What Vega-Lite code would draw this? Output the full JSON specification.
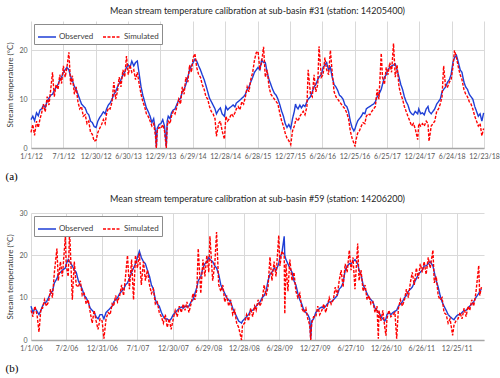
{
"$schema": "https://vega.github.io/schema/vega-lite/v6.json",
"padding": {"left": 5, "top": 7, "right": 2, "bottom": 2},
"spacing": 14,
"resolve": {"scale": {"color": "independent", "strokeDash": "independent"}, "legend": {"color": "independent", "strokeDash": "independent"}},
"config": {
 "font": "Lato",
 "view": {"stroke": null},
 "title": {"fontSize": 9, "fontWeight": "normal", "color": "#262626", "offset": 5},
 "axis": {"labelFontSize": 7, "labelColor": "#595959", "gridColor": "#d9d9d9", "gridWidth": 1, "ticks": false, "domain": false, "labelPadding": 4},
 "axisX": {"domain": true, "domainColor": "#a6a6a6", "domainWidth": 1.5, "titleFont": "Liberation Serif", "titleFontSize": 11, "titleFontWeight": "normal", "titleColor": "#000000", "titleAnchor": "start", "titleAlign": "left", "titleX": -26, "titlePadding": 11, "labelFlush": false, "labelOverlap": false},
 "axisY": {"titleFontSize": 8, "titleFontWeight": "normal", "titleColor": "#404040", "titlePadding": 4},
 "legend": {"orient": "top-left", "offset": 3, "direction": "horizontal", "symbolType": "stroke", "symbolSize": 324, "symbolStrokeWidth": 1.6, "labelFontSize": 8, "labelColor": "#404040", "strokeColor": "#8c8c8c", "fillColor": "white", "padding": 3, "columnPadding": 5, "labelOffset": 2}
},
"datasets": {
"a": [
{"d":"2012-01-01","o":5.8,"s":3.2},{"d":"2012-01-11","o":6.5,"s":4.8},{"d":"2012-01-21","o":5.6,"s":2.6},
{"d":"2012-02-01","o":7.2,"s":5.5},{"d":"2012-02-11","o":6.6,"s":4.2},{"d":"2012-02-21","o":7.8,"s":6.0},
{"d":"2012-03-01","o":8.0,"s":7.2},{"d":"2012-03-11","o":8.8,"s":9.0},{"d":"2012-03-21","o":8.3,"s":7.4},
{"d":"2012-04-01","o":9.6,"s":10.5},{"d":"2012-04-11","o":10.2,"s":8.8},{"d":"2012-04-21","o":10.8,"s":12.0},
{"d":"2012-05-01","o":11.0,"s":15.5},{"d":"2012-05-11","o":11.8,"s":10.5},{"d":"2012-05-21","o":12.4,"s":13.0},
{"d":"2012-06-01","o":13.0,"s":12.0},{"d":"2012-06-11","o":14.0,"s":15.0},{"d":"2012-06-21","o":14.5,"s":13.2},
{"d":"2012-07-01","o":15.5,"s":16.8},{"d":"2012-07-11","o":16.0,"s":14.5},{"d":"2012-07-21","o":16.5,"s":16.5},
{"d":"2012-08-01","o":16.0,"s":19.6},{"d":"2012-08-11","o":14.6,"s":13.0},{"d":"2012-08-21","o":13.8,"s":14.8},
{"d":"2012-09-01","o":12.6,"s":11.0},{"d":"2012-09-11","o":12.0,"s":12.5},{"d":"2012-09-21","o":11.0,"s":9.5},
{"d":"2012-10-01","o":10.0,"s":8.0},{"d":"2012-10-11","o":9.0,"s":8.5},{"d":"2012-10-21","o":8.6,"s":6.5},
{"d":"2012-11-01","o":8.2,"s":6.8},{"d":"2012-11-11","o":7.2,"s":5.0},{"d":"2012-11-21","o":6.8,"s":5.5},
{"d":"2012-12-01","o":5.5,"s":3.2},{"d":"2012-12-11","o":5.2,"s":2.8},{"d":"2012-12-21","o":4.4,"s":1.4},
{"d":"2013-01-01","o":4.2,"s":1.6},{"d":"2013-01-11","o":5.5,"s":3.2},{"d":"2013-01-21","o":6.2,"s":4.0},
{"d":"2013-02-01","o":6.8,"s":4.8},{"d":"2013-02-11","o":7.4,"s":5.8},{"d":"2013-02-21","o":7.0,"s":5.0},
{"d":"2013-03-01","o":8.0,"s":7.0},{"d":"2013-03-11","o":8.8,"s":8.2},{"d":"2013-03-21","o":9.2,"s":8.0},
{"d":"2013-04-01","o":10.0,"s":9.5},{"d":"2013-04-11","o":11.0,"s":13.5},{"d":"2013-04-21","o":11.5,"s":10.0},
{"d":"2013-05-01","o":12.5,"s":11.5},{"d":"2013-05-11","o":13.2,"s":14.5},{"d":"2013-05-21","o":14.0,"s":12.5},
{"d":"2013-06-01","o":15.0,"s":16.0},{"d":"2013-06-11","o":15.5,"s":14.5},{"d":"2013-06-21","o":16.5,"s":18.8},
{"d":"2013-07-01","o":17.0,"s":15.0},{"d":"2013-07-11","o":16.5,"s":17.0},{"d":"2013-07-21","o":17.8,"s":15.5},
{"d":"2013-08-01","o":16.8,"s":16.0},{"d":"2013-08-11","o":17.5,"s":14.0},{"d":"2013-08-21","o":17.8,"s":15.5},
{"d":"2013-09-01","o":15.0,"s":13.0},{"d":"2013-09-11","o":12.5,"s":11.0},{"d":"2013-09-21","o":10.8,"s":9.5},
{"d":"2013-10-01","o":9.5,"s":8.5},{"d":"2013-10-11","o":8.2,"s":7.0},{"d":"2013-10-21","o":7.5,"s":6.5},
{"d":"2013-11-01","o":6.5,"s":5.5},{"d":"2013-11-11","o":5.2,"s":4.5},{"d":"2013-11-21","o":6.0,"s":5.0},
{"d":"2013-12-01","o":3.5,"s":2.5},{"d":"2013-12-06","o":0.2,"s":0.0},{"d":"2013-12-11","o":4.0,"s":3.5},{"d":"2013-12-21","o":4.8,"s":4.2},
{"d":"2014-01-01","o":5.0,"s":4.0},{"d":"2014-01-11","o":5.8,"s":4.8},{"d":"2014-01-21","o":4.5,"s":3.5},{"d":"2014-01-31","o":0.3,"s":0.0},
{"d":"2014-02-05","o":5.5,"s":4.5},{"d":"2014-02-11","o":6.5,"s":5.5},{"d":"2014-02-21","o":6.0,"s":5.0},
{"d":"2014-03-01","o":7.2,"s":6.5},{"d":"2014-03-11","o":7.8,"s":7.5},{"d":"2014-03-21","o":8.0,"s":7.0},
{"d":"2014-04-01","o":9.0,"s":8.5},{"d":"2014-04-11","o":9.8,"s":10.0},{"d":"2014-04-21","o":10.2,"s":9.0},
{"d":"2014-05-01","o":11.5,"s":12.5},{"d":"2014-05-11","o":12.0,"s":11.0},{"d":"2014-05-21","o":13.0,"s":14.5},
{"d":"2014-06-01","o":14.5,"s":13.5},{"d":"2014-06-11","o":16.0,"s":17.0},{"d":"2014-06-21","o":16.8,"s":15.5},
{"d":"2014-07-01","o":17.5,"s":18.5},{"d":"2014-07-11","o":18.2,"s":19.3},{"d":"2014-07-21","o":17.8,"s":16.5},
{"d":"2014-08-01","o":16.8,"s":15.0},{"d":"2014-08-11","o":16.0,"s":14.5},{"d":"2014-08-21","o":15.0,"s":13.0},
{"d":"2014-09-01","o":14.0,"s":12.0},{"d":"2014-09-11","o":12.8,"s":10.5},{"d":"2014-09-21","o":11.5,"s":10.0},
{"d":"2014-10-01","o":10.2,"s":8.5},{"d":"2014-10-11","o":9.5,"s":7.5},{"d":"2014-10-21","o":8.8,"s":7.0},
{"d":"2014-11-01","o":8.0,"s":6.0},{"d":"2014-11-09","o":7.0,"s":2.4},{"d":"2014-11-21","o":7.8,"s":5.0},
{"d":"2014-12-01","o":8.2,"s":5.5},{"d":"2014-12-11","o":7.0,"s":3.5},{"d":"2014-12-24","o":6.5,"s":1.8},
{"d":"2015-01-01","o":8.5,"s":6.5},{"d":"2015-01-11","o":7.8,"s":5.5},{"d":"2015-01-21","o":8.2,"s":6.0},
{"d":"2015-02-01","o":8.5,"s":7.0},{"d":"2015-02-11","o":8.8,"s":6.5},{"d":"2015-02-21","o":8.4,"s":7.2},
{"d":"2015-03-01","o":9.2,"s":8.0},{"d":"2015-03-11","o":9.5,"s":8.5},{"d":"2015-03-21","o":9.8,"s":7.8},
{"d":"2015-04-01","o":10.2,"s":9.5},{"d":"2015-04-11","o":10.5,"s":9.0},{"d":"2015-04-21","o":11.0,"s":10.5},
{"d":"2015-05-01","o":12.0,"s":12.5},{"d":"2015-05-11","o":12.5,"s":11.5},{"d":"2015-05-21","o":13.5,"s":14.0},
{"d":"2015-06-01","o":14.5,"s":15.5},{"d":"2015-06-11","o":15.5,"s":18.0},{"d":"2015-06-21","o":16.0,"s":19.5},
{"d":"2015-07-01","o":16.5,"s":19.8},{"d":"2015-07-11","o":16.0,"s":16.0},{"d":"2015-07-21","o":18.0,"s":17.5},
{"d":"2015-08-01","o":17.5,"s":20.7},{"d":"2015-08-11","o":17.5,"s":14.5},{"d":"2015-08-21","o":15.5,"s":16.0},
{"d":"2015-09-01","o":14.0,"s":12.5},{"d":"2015-09-11","o":13.0,"s":11.0},{"d":"2015-09-21","o":12.0,"s":10.5},
{"d":"2015-10-01","o":11.2,"s":10.0},{"d":"2015-10-11","o":10.8,"s":9.5},{"d":"2015-10-21","o":10.0,"s":9.0},
{"d":"2015-11-01","o":8.8,"s":7.0},{"d":"2015-11-11","o":7.5,"s":5.5},{"d":"2015-11-21","o":6.5,"s":4.5},
{"d":"2015-12-01","o":5.0,"s":3.0},{"d":"2015-12-11","o":4.2,"s":2.0},{"d":"2015-12-21","o":4.8,"s":1.5},
{"d":"2016-01-01","o":4.0,"s":0.7},{"d":"2016-01-11","o":6.0,"s":3.5},{"d":"2016-01-21","o":7.5,"s":4.5},{"d":"2016-01-28","o":9.0,"s":5.5},
{"d":"2016-02-01","o":8.5,"s":6.0},{"d":"2016-02-11","o":8.0,"s":5.5},{"d":"2016-02-21","o":8.8,"s":6.5},
{"d":"2016-03-01","o":8.2,"s":7.0},{"d":"2016-03-11","o":8.8,"s":7.5},{"d":"2016-03-21","o":8.5,"s":6.8},
{"d":"2016-04-01","o":9.5,"s":8.5},{"d":"2016-04-08","o":10.0,"s":16.0},{"d":"2016-04-21","o":10.5,"s":11.0},
{"d":"2016-05-01","o":11.5,"s":10.5},{"d":"2016-05-11","o":12.5,"s":15.0},{"d":"2016-05-21","o":13.0,"s":11.5},
{"d":"2016-06-01","o":14.0,"s":13.0},{"d":"2016-06-08","o":14.5,"s":20.8},{"d":"2016-06-21","o":15.0,"s":14.5},
{"d":"2016-07-01","o":16.5,"s":15.0},{"d":"2016-07-11","o":17.0,"s":18.5},{"d":"2016-07-21","o":17.5,"s":16.0},
{"d":"2016-08-01","o":16.0,"s":15.0},{"d":"2016-08-11","o":16.5,"s":20.0},{"d":"2016-08-21","o":14.5,"s":15.5},
{"d":"2016-09-01","o":13.0,"s":11.5},{"d":"2016-09-11","o":12.5,"s":10.5},{"d":"2016-09-21","o":11.8,"s":10.0},
{"d":"2016-10-01","o":10.8,"s":9.5},{"d":"2016-10-11","o":10.5,"s":9.0},{"d":"2016-10-21","o":10.0,"s":8.5},
{"d":"2016-11-01","o":8.8,"s":8.0},{"d":"2016-11-11","o":8.5,"s":7.2},{"d":"2016-11-21","o":7.5,"s":6.0},
{"d":"2016-12-01","o":5.5,"s":3.5},{"d":"2016-12-11","o":4.2,"s":2.0},{"d":"2016-12-21","o":3.5,"s":1.0},{"d":"2016-12-28","o":4.0,"s":0.3},
{"d":"2017-01-01","o":4.5,"s":1.5},{"d":"2017-01-11","o":5.5,"s":3.0},{"d":"2017-01-21","o":6.0,"s":3.5},
{"d":"2017-02-01","o":6.5,"s":4.5},{"d":"2017-02-11","o":7.2,"s":5.2},{"d":"2017-02-21","o":7.0,"s":5.0},
{"d":"2017-03-01","o":8.0,"s":6.5},{"d":"2017-03-11","o":8.3,"s":7.0},{"d":"2017-03-21","o":8.5,"s":6.8},
{"d":"2017-04-01","o":8.8,"s":7.5},{"d":"2017-04-11","o":9.0,"s":8.0},{"d":"2017-04-21","o":9.5,"s":8.5},
{"d":"2017-05-01","o":10.5,"s":12.0},{"d":"2017-05-11","o":11.0,"s":10.0},{"d":"2017-05-24","o":12.0,"s":19.4},{"d":"2017-05-31","o":13.0,"s":14.5},
{"d":"2017-06-11","o":14.5,"s":13.0},{"d":"2017-06-21","o":15.0,"s":16.5},
{"d":"2017-07-01","o":16.0,"s":15.0},{"d":"2017-07-11","o":16.5,"s":17.5},{"d":"2017-07-21","o":16.8,"s":15.5},
{"d":"2017-08-01","o":17.0,"s":21.4},{"d":"2017-08-11","o":17.2,"s":14.5},{"d":"2017-08-21","o":16.0,"s":17.0},
{"d":"2017-09-01","o":14.5,"s":12.5},{"d":"2017-09-11","o":13.0,"s":11.0},{"d":"2017-09-21","o":12.0,"s":10.0},
{"d":"2017-10-01","o":10.5,"s":8.5},{"d":"2017-10-11","o":9.5,"s":7.5},{"d":"2017-10-21","o":8.8,"s":6.5},
{"d":"2017-11-01","o":7.5,"s":5.5},{"d":"2017-11-11","o":7.0,"s":4.5},{"d":"2017-11-21","o":6.8,"s":5.0},
{"d":"2017-12-01","o":7.5,"s":4.0},{"d":"2017-12-15","o":7.0,"s":1.7},{"d":"2017-12-21","o":8.0,"s":5.0},
{"d":"2018-01-01","o":7.0,"s":4.5},{"d":"2018-01-11","o":7.2,"s":5.0},{"d":"2018-01-21","o":6.8,"s":4.5},
{"d":"2018-02-01","o":8.0,"s":5.5},{"d":"2018-02-11","o":8.5,"s":5.0},{"d":"2018-02-17","o":7.5,"s":1.4},
{"d":"2018-03-01","o":7.0,"s":4.5},{"d":"2018-03-11","o":7.5,"s":5.0},{"d":"2018-03-21","o":8.0,"s":5.5},
{"d":"2018-04-01","o":9.0,"s":7.5},{"d":"2018-04-11","o":9.5,"s":8.0},{"d":"2018-04-21","o":10.0,"s":9.0},
{"d":"2018-05-01","o":11.5,"s":10.5},{"d":"2018-05-10","o":12.0,"s":16.8},{"d":"2018-05-21","o":12.5,"s":12.5},
{"d":"2018-06-01","o":13.5,"s":12.5},{"d":"2018-06-11","o":14.0,"s":13.5},{"d":"2018-06-21","o":15.0,"s":14.0},
{"d":"2018-07-01","o":17.5,"s":16.5},{"d":"2018-07-10","o":18.5,"s":20.0},{"d":"2018-07-21","o":19.0,"s":18.5},
{"d":"2018-08-01","o":17.5,"s":16.5},{"d":"2018-08-11","o":16.0,"s":15.0},{"d":"2018-08-21","o":15.5,"s":14.0},
{"d":"2018-09-01","o":13.5,"s":12.0},{"d":"2018-09-11","o":12.5,"s":11.0},{"d":"2018-09-21","o":12.0,"s":10.5},
{"d":"2018-10-01","o":11.0,"s":9.5},{"d":"2018-10-11","o":10.5,"s":9.0},{"d":"2018-10-21","o":10.0,"s":8.0},
{"d":"2018-11-01","o":8.5,"s":6.5},{"d":"2018-11-11","o":7.5,"s":5.5},{"d":"2018-11-21","o":6.5,"s":4.5},
{"d":"2018-12-01","o":7.0,"s":5.0},{"d":"2018-12-11","o":5.5,"s":2.5},{"d":"2018-12-21","o":7.2,"s":4.0}
],
"b": [
{"d":"2006-01-01","o":8.0,"s":7.0},{"d":"2006-01-11","o":6.5,"s":5.5},{"d":"2006-01-21","o":7.5,"s":8.0},
{"d":"2006-02-01","o":6.8,"s":6.0},{"d":"2006-02-11","o":6.0,"s":1.9},{"d":"2006-02-21","o":7.0,"s":7.5},
{"d":"2006-03-01","o":8.0,"s":7.5},{"d":"2006-03-11","o":8.8,"s":9.5},{"d":"2006-03-21","o":9.0,"s":8.0},
{"d":"2006-04-01","o":10.0,"s":9.0},{"d":"2006-04-11","o":11.0,"s":12.0},{"d":"2006-04-21","o":11.5,"s":10.0},
{"d":"2006-05-01","o":13.5,"s":16.0},{"d":"2006-05-14","o":14.5,"s":21.6},{"d":"2006-05-21","o":15.5,"s":14.0},
{"d":"2006-06-01","o":16.0,"s":18.5},{"d":"2006-06-11","o":16.5,"s":15.0},{"d":"2006-06-26","o":17.0,"s":24.3},
{"d":"2006-07-01","o":18.0,"s":17.5},{"d":"2006-07-11","o":19.0,"s":15.0},{"d":"2006-07-18","o":18.5,"s":25.9},
{"d":"2006-08-01","o":17.5,"s":9.5},{"d":"2006-08-11","o":16.5,"s":18.5},{"d":"2006-08-21","o":16.0,"s":13.0},
{"d":"2006-09-01","o":14.0,"s":12.5},{"d":"2006-09-11","o":13.0,"s":14.0},{"d":"2006-09-21","o":12.0,"s":10.5},
{"d":"2006-10-01","o":10.5,"s":11.0},{"d":"2006-10-11","o":10.0,"s":8.5},{"d":"2006-10-21","o":9.0,"s":9.5},
{"d":"2006-11-01","o":7.5,"s":6.5},{"d":"2006-11-11","o":7.0,"s":4.0},{"d":"2006-11-21","o":6.5,"s":7.0},
{"d":"2006-12-01","o":5.5,"s":4.5},{"d":"2006-12-11","o":5.0,"s":2.5},{"d":"2006-12-21","o":6.0,"s":5.0},
{"d":"2007-01-01","o":6.0,"s":4.5},{"d":"2007-01-10","o":5.0,"s":0.3},{"d":"2007-01-21","o":6.5,"s":5.0},
{"d":"2007-02-01","o":7.0,"s":6.5},{"d":"2007-02-11","o":7.5,"s":6.0},{"d":"2007-02-21","o":8.0,"s":8.5},
{"d":"2007-03-01","o":9.0,"s":8.0},{"d":"2007-03-11","o":9.5,"s":10.5},{"d":"2007-03-21","o":10.0,"s":9.0},
{"d":"2007-04-01","o":11.0,"s":10.5},{"d":"2007-04-11","o":11.5,"s":13.0},{"d":"2007-04-21","o":12.0,"s":10.5},
{"d":"2007-05-01","o":13.0,"s":15.0},{"d":"2007-05-11","o":13.5,"s":20.0},{"d":"2007-05-21","o":14.5,"s":12.0},
{"d":"2007-06-01","o":16.0,"s":19.0},{"d":"2007-06-11","o":17.0,"s":9.5},{"d":"2007-06-21","o":18.0,"s":20.0},
{"d":"2007-07-01","o":19.5,"s":17.0},{"d":"2007-07-11","o":21.0,"s":20.5},{"d":"2007-07-21","o":19.5,"s":13.0},
{"d":"2007-08-01","o":18.5,"s":18.5},{"d":"2007-08-11","o":18.0,"s":14.0},{"d":"2007-08-21","o":16.5,"s":16.5},
{"d":"2007-09-01","o":15.0,"s":13.0},{"d":"2007-09-11","o":13.0,"s":11.0},{"d":"2007-09-21","o":12.0,"s":12.0},
{"d":"2007-10-01","o":9.5,"s":8.5},{"d":"2007-10-11","o":8.5,"s":9.0},{"d":"2007-10-21","o":8.0,"s":6.5},
{"d":"2007-11-01","o":6.5,"s":5.5},{"d":"2007-11-11","o":5.5,"s":4.0},{"d":"2007-11-21","o":5.0,"s":6.0},
{"d":"2007-12-01","o":5.0,"s":3.0},{"d":"2007-12-11","o":4.5,"s":5.0},{"d":"2007-12-21","o":5.0,"s":2.5},
{"d":"2008-01-01","o":6.0,"s":5.0},{"d":"2008-01-11","o":6.5,"s":7.0},{"d":"2008-01-21","o":7.0,"s":5.5},
{"d":"2008-02-01","o":7.5,"s":8.0},{"d":"2008-02-11","o":7.8,"s":6.5},{"d":"2008-02-21","o":7.5,"s":8.5},
{"d":"2008-03-01","o":8.0,"s":7.0},{"d":"2008-03-11","o":7.8,"s":9.0},{"d":"2008-03-21","o":8.0,"s":6.5},
{"d":"2008-04-01","o":9.0,"s":8.5},{"d":"2008-04-11","o":9.5,"s":11.0},{"d":"2008-04-21","o":11.0,"s":9.5},
{"d":"2008-05-01","o":12.5,"s":12.0},{"d":"2008-05-08","o":14.0,"s":21.6},{"d":"2008-05-21","o":15.0,"s":11.0},
{"d":"2008-06-01","o":17.0,"s":19.0},{"d":"2008-06-11","o":18.0,"s":15.0},{"d":"2008-06-21","o":18.5,"s":20.0},
{"d":"2008-07-01","o":19.5,"s":16.0},{"d":"2008-07-07","o":19.0,"s":24.5},{"d":"2008-07-21","o":18.5,"s":14.0},
{"d":"2008-08-01","o":17.5,"s":18.0},{"d":"2008-08-10","o":17.0,"s":25.5},{"d":"2008-08-21","o":15.5,"s":13.0},
{"d":"2008-09-01","o":13.0,"s":11.5},{"d":"2008-09-11","o":12.0,"s":13.0},{"d":"2008-09-21","o":11.0,"s":9.0},
{"d":"2008-10-01","o":10.0,"s":10.5},{"d":"2008-10-11","o":9.5,"s":8.0},{"d":"2008-10-21","o":9.0,"s":9.5},
{"d":"2008-11-01","o":7.5,"s":6.0},{"d":"2008-11-11","o":6.5,"s":7.0},{"d":"2008-11-21","o":5.5,"s":4.0},
{"d":"2008-12-01","o":4.5,"s":3.0},{"d":"2008-12-16","o":4.0,"s":0.0},{"d":"2008-12-21","o":4.5,"s":3.5},
{"d":"2009-01-01","o":5.0,"s":4.0},{"d":"2009-01-11","o":5.5,"s":6.0},{"d":"2009-01-21","o":6.0,"s":4.5},
{"d":"2009-02-01","o":7.0,"s":7.5},{"d":"2009-02-11","o":7.0,"s":5.5},{"d":"2009-02-21","o":7.5,"s":8.0},
{"d":"2009-03-01","o":8.0,"s":7.0},{"d":"2009-03-11","o":8.5,"s":9.5},{"d":"2009-03-21","o":9.0,"s":8.0},
{"d":"2009-04-01","o":10.0,"s":9.5},{"d":"2009-04-11","o":10.5,"s":13.0},{"d":"2009-04-21","o":11.5,"s":10.5},
{"d":"2009-05-01","o":14.0,"s":12.5},{"d":"2009-05-11","o":15.5,"s":19.6},{"d":"2009-05-21","o":16.0,"s":14.0},
{"d":"2009-06-01","o":17.0,"s":18.5},{"d":"2009-06-11","o":16.5,"s":15.0},{"d":"2009-06-25","o":18.0,"s":24.7},
{"d":"2009-07-01","o":19.5,"s":17.5},{"d":"2009-07-11","o":20.5,"s":21.0},{"d":"2009-07-23","o":24.5,"s":20.0},{"d":"2009-07-26","o":20.0,"s":6.2},
{"d":"2009-08-01","o":19.0,"s":18.0},{"d":"2009-08-11","o":18.0,"s":11.5},{"d":"2009-08-21","o":17.0,"s":19.0},
{"d":"2009-09-01","o":16.0,"s":14.0},{"d":"2009-09-11","o":14.0,"s":16.0},{"d":"2009-09-21","o":13.0,"s":11.5},
{"d":"2009-10-01","o":11.0,"s":10.0},{"d":"2009-10-11","o":9.5,"s":11.0},{"d":"2009-10-21","o":8.5,"s":7.5},
{"d":"2009-11-01","o":7.0,"s":6.5},{"d":"2009-11-11","o":6.5,"s":7.5},{"d":"2009-11-21","o":6.0,"s":5.0},
{"d":"2009-12-01","o":5.0,"s":3.5},{"d":"2009-12-06","o":0.3,"s":0.0},{"d":"2009-12-11","o":4.5,"s":4.0},{"d":"2009-12-21","o":5.0,"s":5.5},
{"d":"2010-01-01","o":6.5,"s":5.5},{"d":"2010-01-11","o":7.0,"s":8.0},{"d":"2010-01-21","o":7.5,"s":6.0},
{"d":"2010-02-01","o":7.8,"s":7.0},{"d":"2010-02-11","o":7.5,"s":8.5},{"d":"2010-02-21","o":8.0,"s":6.5},
{"d":"2010-03-01","o":8.5,"s":8.0},{"d":"2010-03-11","o":9.0,"s":10.0},{"d":"2010-03-21","o":9.0,"s":8.5},
{"d":"2010-04-01","o":9.5,"s":9.5},{"d":"2010-04-11","o":10.0,"s":12.5},{"d":"2010-04-21","o":10.5,"s":10.5},
{"d":"2010-05-01","o":12.0,"s":14.0},{"d":"2010-05-11","o":12.5,"s":16.5},{"d":"2010-05-21","o":13.5,"s":12.5},
{"d":"2010-06-01","o":16.5,"s":18.0},{"d":"2010-06-11","o":17.5,"s":16.0},{"d":"2010-06-22","o":18.0,"s":21.2},
{"d":"2010-07-01","o":18.0,"s":16.5},{"d":"2010-07-11","o":18.5,"s":19.5},{"d":"2010-07-21","o":19.0,"s":12.0},
{"d":"2010-08-04","o":18.0,"s":22.8},{"d":"2010-08-11","o":16.5,"s":14.0},{"d":"2010-08-21","o":15.5,"s":16.5},
{"d":"2010-09-01","o":13.0,"s":11.5},{"d":"2010-09-11","o":12.0,"s":13.0},{"d":"2010-09-21","o":11.0,"s":9.5},
{"d":"2010-10-01","o":10.0,"s":10.5},{"d":"2010-10-11","o":9.5,"s":8.5},{"d":"2010-10-21","o":9.0,"s":9.0},
{"d":"2010-11-01","o":7.5,"s":6.5},{"d":"2010-11-11","o":7.0,"s":8.0},{"d":"2010-11-18","o":6.5,"s":0.3},{"d":"2010-11-21","o":6.5,"s":7.0},
{"d":"2010-12-01","o":5.5,"s":4.5},{"d":"2010-12-11","o":5.0,"s":7.0},{"d":"2010-12-21","o":4.5,"s":3.0},{"d":"2010-12-27","o":5.0,"s":1.0},
{"d":"2011-01-01","o":6.0,"s":5.0},{"d":"2011-01-11","o":6.5,"s":7.0},{"d":"2011-01-21","o":6.0,"s":5.5},
{"d":"2011-02-01","o":6.5,"s":6.0},{"d":"2011-02-11","o":6.8,"s":6.5},{"d":"2011-02-20","o":7.0,"s":0.3},
{"d":"2011-03-01","o":8.0,"s":7.5},{"d":"2011-03-11","o":8.5,"s":9.5},{"d":"2011-03-21","o":9.0,"s":8.0},
{"d":"2011-04-01","o":10.0,"s":9.5},{"d":"2011-04-11","o":10.5,"s":12.0},{"d":"2011-04-21","o":11.5,"s":10.0},
{"d":"2011-05-01","o":12.0,"s":13.5},{"d":"2011-05-11","o":12.5,"s":16.0},{"d":"2011-05-21","o":13.5,"s":13.0},
{"d":"2011-06-01","o":14.5,"s":17.0},{"d":"2011-06-11","o":15.5,"s":14.5},{"d":"2011-06-21","o":16.0,"s":18.0},
{"d":"2011-07-01","o":16.5,"s":16.0},{"d":"2011-07-11","o":17.5,"s":18.5},{"d":"2011-07-21","o":17.5,"s":15.5},
{"d":"2011-08-01","o":18.0,"s":19.5},{"d":"2011-08-11","o":18.5,"s":17.0},{"d":"2011-08-25","o":17.5,"s":21.2},
{"d":"2011-09-01","o":16.0,"s":13.5},{"d":"2011-09-11","o":14.0,"s":15.0},{"d":"2011-09-21","o":12.5,"s":10.5},
{"d":"2011-10-01","o":10.5,"s":9.5},{"d":"2011-10-11","o":9.0,"s":10.0},{"d":"2011-10-21","o":8.0,"s":6.5},
{"d":"2011-11-01","o":7.0,"s":6.0},{"d":"2011-11-11","o":6.0,"s":4.0},{"d":"2011-11-21","o":5.5,"s":5.0},
{"d":"2011-12-04","o":5.0,"s":1.1},{"d":"2011-12-11","o":4.8,"s":3.5},{"d":"2011-12-21","o":5.5,"s":4.5},
{"d":"2012-01-01","o":6.0,"s":5.0},{"d":"2012-01-11","o":6.0,"s":6.5},{"d":"2012-01-21","o":6.5,"s":5.0},
{"d":"2012-02-01","o":7.0,"s":7.5},{"d":"2012-02-11","o":7.0,"s":5.5},{"d":"2012-02-21","o":7.5,"s":8.0},
{"d":"2012-03-01","o":8.0,"s":7.0},{"d":"2012-03-11","o":8.5,"s":9.5},{"d":"2012-03-21","o":9.0,"s":8.0},
{"d":"2012-04-01","o":10.0,"s":11.0},{"d":"2012-04-16","o":11.0,"s":17.6},{"d":"2012-04-21","o":11.5,"s":10.5},{"d":"2012-04-30","o":12.0,"s":12.5}
]
},
"vconcat": [
{
 "title": "Mean stream temperature calibration at sub-basin #31 (station: 14205400)",
 "width": 453, "height": 127,
 "data": {"name": "a"},
 "encoding": {
  "x": {"field": "d", "type": "temporal", "title": "(a)",
   "scale": {"type": "utc", "nice": false, "domain": [{"year": 2012, "month": 1, "date": 1, "utc": true}, {"year": 2018, "month": 12, "date": 23, "utc": true}]},
   "axis": {"format": "%-m/%-d/%y", "values": [
    {"year": 2012, "month": 1, "date": 1, "utc": true}, {"year": 2012, "month": 7, "date": 1, "utc": true},
    {"year": 2012, "month": 12, "date": 30, "utc": true}, {"year": 2013, "month": 6, "date": 30, "utc": true},
    {"year": 2013, "month": 12, "date": 29, "utc": true}, {"year": 2014, "month": 6, "date": 29, "utc": true},
    {"year": 2014, "month": 12, "date": 28, "utc": true}, {"year": 2015, "month": 6, "date": 28, "utc": true},
    {"year": 2015, "month": 12, "date": 27, "utc": true}, {"year": 2016, "month": 6, "date": 26, "utc": true},
    {"year": 2016, "month": 12, "date": 25, "utc": true}, {"year": 2017, "month": 6, "date": 25, "utc": true},
    {"year": 2017, "month": 12, "date": 24, "utc": true}, {"year": 2018, "month": 6, "date": 24, "utc": true},
    {"year": 2018, "month": 12, "date": 23, "utc": true}]}}
 },
 "layer": [
  {"mark": {"type": "line", "strokeWidth": 1.4},
   "encoding": {
    "y": {"field": "o", "type": "quantitative", "title": "Stream temperature (°C)", "scale": {"domain": [0, 25]}, "axis": {"values": [0, 5, 10, 15, 20, 25]}},
    "color": {"datum": "Observed", "scale": {"domain": ["Observed", "Simulated"], "range": ["#1f3fd6", "#ff0000"]}, "legend": {"title": null}},
    "strokeDash": {"datum": "Observed", "scale": {"domain": ["Observed", "Simulated"], "range": [[1, 0], [3, 1.5]]}, "legend": {"title": null}}
   }},
  {"mark": {"type": "line", "strokeWidth": 1.4},
   "encoding": {
    "y": {"field": "s", "type": "quantitative"},
    "color": {"datum": "Simulated"},
    "strokeDash": {"datum": "Simulated"}
   }}
 ]
},
{
 "title": "Mean stream temperature calibration at sub-basin #59 (station: 14206200)",
 "width": 453, "height": 127,
 "data": {"name": "b"},
 "encoding": {
  "x": {"field": "d", "type": "temporal", "title": "(b)",
   "scale": {"type": "utc", "nice": false, "domain": [{"year": 2006, "month": 1, "date": 1, "utc": true}, {"year": 2012, "month": 5, "date": 13, "utc": true}]},
   "axis": {"format": "%-m/%-d/%y", "values": [
    {"year": 2006, "month": 1, "date": 1, "utc": true}, {"year": 2006, "month": 7, "date": 2, "utc": true},
    {"year": 2006, "month": 12, "date": 31, "utc": true}, {"year": 2007, "month": 7, "date": 1, "utc": true},
    {"year": 2007, "month": 12, "date": 30, "utc": true}, {"year": 2008, "month": 6, "date": 29, "utc": true},
    {"year": 2008, "month": 12, "date": 28, "utc": true}, {"year": 2009, "month": 6, "date": 28, "utc": true},
    {"year": 2009, "month": 12, "date": 27, "utc": true}, {"year": 2010, "month": 6, "date": 27, "utc": true},
    {"year": 2010, "month": 12, "date": 26, "utc": true}, {"year": 2011, "month": 6, "date": 26, "utc": true},
    {"year": 2011, "month": 12, "date": 25, "utc": true}]}}
 },
 "layer": [
  {"mark": {"type": "line", "strokeWidth": 1.4},
   "encoding": {
    "y": {"field": "o", "type": "quantitative", "title": "Stream temperature (°C)", "scale": {"domain": [0, 30]}, "axis": {"values": [0, 5, 10, 15, 20, 25, 30]}},
    "color": {"datum": "Observed", "scale": {"domain": ["Observed", "Simulated"], "range": ["#1f3fd6", "#ff0000"]}, "legend": {"title": null}},
    "strokeDash": {"datum": "Observed", "scale": {"domain": ["Observed", "Simulated"], "range": [[1, 0], [3, 1.5]]}, "legend": {"title": null}}
   }},
  {"mark": {"type": "line", "strokeWidth": 1.4},
   "encoding": {
    "y": {"field": "s", "type": "quantitative"},
    "color": {"datum": "Simulated"},
    "strokeDash": {"datum": "Simulated"}
   }}
 ]
}
]
}
